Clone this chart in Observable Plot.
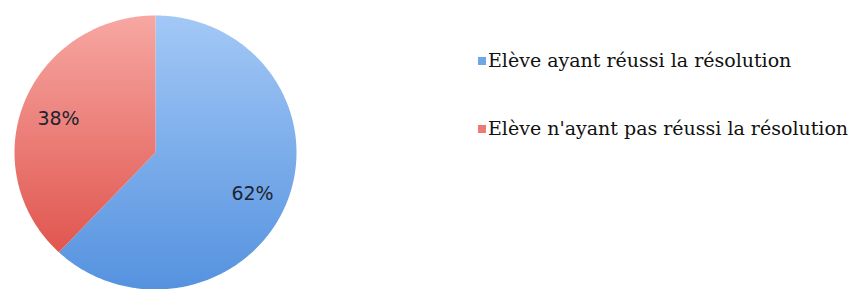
<!DOCTYPE html>
<html>
<head>
<meta charset="utf-8">
<script src="https://cdn.jsdelivr.net/npm/d3@7"></script>
<script src="https://cdn.jsdelivr.net/npm/@observablehq/plot@0.6"></script>
<style>
  html, body { margin: 0; padding: 0; background: #fff; }
  #wrap { position: relative; width: 853px; height: 289px; }
  .legend { position: absolute; left: 478px; font-family: "DejaVu Serif", serif; font-size: 19px; line-height: 22px; color: #111; white-space: nowrap; }
  .legend span.sw { display: inline-block; width: 8px; height: 8px; margin-right: 2px; vertical-align: 2px; }
</style>
</head>
<body>
<div id="wrap"></div>
<script>
const categories = ["Elève ayant réussi la résolution", "Elève n'ayant pas réussi la résolution"];
const values = [62, 38];
const labels = ["62%", "38%"];
const gradIds = ["gBlue", "gRed"];
const swatchColors = ["#6fa6e8", "#ee7a75"];

const pie = d3.pie().sort(null).value(d => d.value)(categories.map((c, i) => ({cat: c, value: values[i], label: labels[i], grad: gradIds[i]})));

function slicePoints(a) {
  const pts = [{x: 0, y: 0}];
  const n = Math.max(2, Math.ceil((a.endAngle - a.startAngle) / (Math.PI / 180)));
  for (let k = 0; k <= n; k++) {
    const t = a.startAngle + (a.endAngle - a.startAngle) * k / n;
    pts.push({x: Math.sin(t), y: Math.cos(t)});
  }
  pts.push({x: 0, y: 0});
  return pts;
}

const labelData = pie.map(a => {
  const m = (a.startAngle + a.endAngle) / 2;
  const r = 0.74;
  return {x: Math.sin(m) * r, y: Math.cos(m) * r, label: a.data.label};
});

const defs = () => {
  const ns = "http://www.w3.org/2000/svg";
  const d = document.createElementNS(ns, "defs");
  d.innerHTML = `
    <linearGradient id="gBlue" x1="0" y1="0" x2="0" y2="1">
      <stop offset="0" stop-color="#a3c8f6"/>
      <stop offset="1" stop-color="#5592df"/>
    </linearGradient>
    <linearGradient id="gRed" x1="0" y1="0" x2="0" y2="1">
      <stop offset="0" stop-color="#f7a7a2"/>
      <stop offset="1" stop-color="#e0564f"/>
    </linearGradient>`;
  return d;
};

const chart = Plot.plot({
  width: 853,
  height: 289,
  marginLeft: 14,
  marginRight: 557,
  marginTop: 15,
  marginBottom: 0,
  x: {domain: [-1, 1], axis: null},
  y: {domain: [-1, 1], axis: null},
  marks: [
    defs,
    ...pie.map(a => Plot.line(slicePoints(a), {x: "x", y: "y", fill: `url(#${a.data.grad})`, stroke: "none", curve: "linear"})),
    Plot.text(labelData, {x: "x", y: "y", text: "label", fontSize: 19, dy: 4, fill: "#1d2430", fontFamily: "DejaVu Sans, sans-serif"})
  ]
});

const wrap = document.getElementById("wrap");
wrap.appendChild(chart);
const tops = [49, 117];
categories.forEach((c, i) => {
  const div = document.createElement("div");
  div.className = "legend";
  div.style.top = tops[i] + "px";
  div.innerHTML = `<span class="sw" style="background:${swatchColors[i]}"></span>${c}`;
  wrap.appendChild(div);
});
</script>
</body>
</html>
